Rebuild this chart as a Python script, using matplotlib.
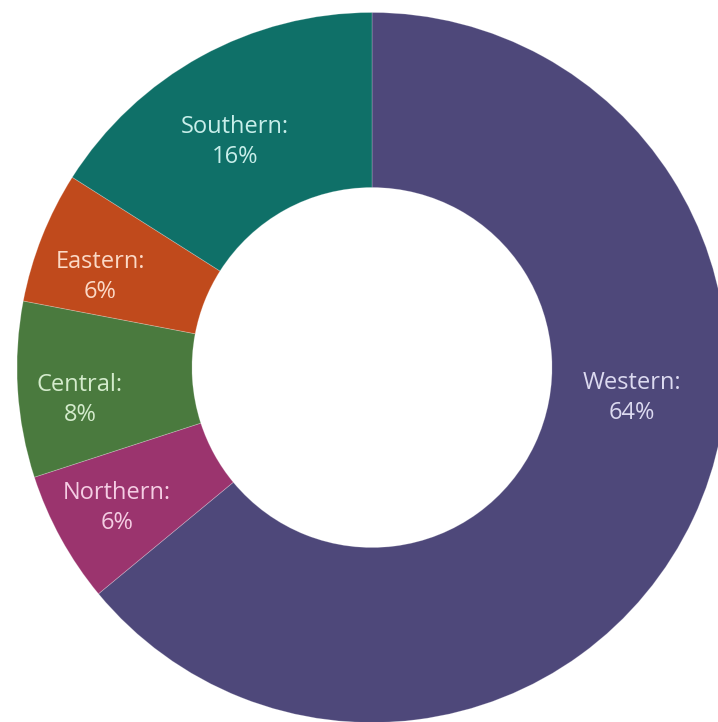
import matplotlib
matplotlib.use("Agg")
import matplotlib.pyplot as plt

regions = ["Western", "Northern", "Central", "Eastern", "Southern"]
shares = [64, 6, 8, 6, 16]
colors = ["#4e487a", "#9b346e", "#4a7a3e", "#c04a1c", "#0f7068"]
text_colors = ["#dcdaf0", "#f4cde3", "#d4ebcc", "#fbd9c6", "#c8eeea"]

W, H = 718, 722
fig = plt.figure(figsize=(W / 100, H / 100), dpi=100)
ax = fig.add_axes([0, 0, 1, 1])

cx, cy = 372, H - 367.5
R = 355
r_in = 180

ax.pie(shares, colors=colors, startangle=90, counterclock=False,
       center=(cx, cy), radius=R, frame=True,
       wedgeprops=dict(width=R - r_in, edgecolor="#ffffff40", linewidth=0.6))
ax.set_xlim(0, W)
ax.set_ylim(0, H)
ax.set_aspect("equal")
ax.axis("off")

label_pos = {
    "Western": (632, 398),
    "Northern": (117, 508),
    "Central": (80, 400),
    "Eastern": (100, 277),
    "Southern": (235, 142),
}
for name, val, tc in zip(regions, shares, text_colors):
    x, y = label_pos[name]
    ax.text(x, H - y, f"{name}:\n{val}%", ha="center", va="center",
            color=tc, fontsize=17, family=["Open Sans", "DejaVu Sans"],
            linespacing=1.32)

fig.savefig("out.png", dpi=100)
